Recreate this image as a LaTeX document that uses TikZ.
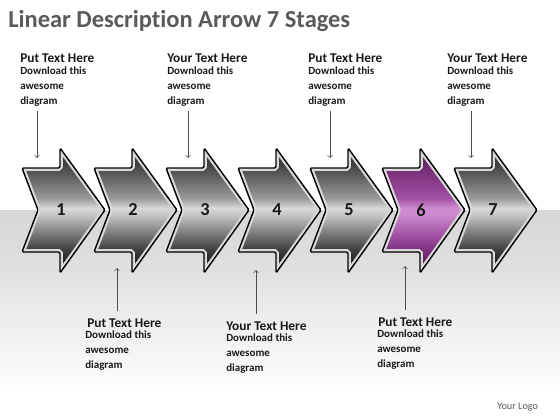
\documentclass[tikz,border=0pt]{standalone}
\usepackage{fontspec}
\setmainfont{Carlito}[Ligatures=NoCommon]
\usetikzlibrary{fadings}

\definecolor{titlegray}{RGB}{90,90,90}
\definecolor{plumA}{RGB}{78,22,80}
\definecolor{plumB}{RGB}{118,45,120}
\definecolor{plumC}{RGB}{160,80,162}
\definecolor{plumD}{RGB}{205,140,208}

% metal fill of the stages, light band through the middle
\pgfdeclareverticalshading{steel}{100bp}{color(0bp)=(black!90); color(25bp)=(black!90);
  color(33.5bp)=(black!78); color(40bp)=(black!55); color(48.5bp)=(black!22);
  color(51bp)=(black!15); color(55bp)=(black!40); color(66.5bp)=(black!70);
  color(75bp)=(black!88); color(100bp)=(black!88)}
\pgfdeclareverticalshading{plumsteel}{100bp}{color(0bp)=(plumA); color(25bp)=(plumA);
  color(33.5bp)=(plumB); color(40bp)=(plumC); color(48.5bp)=(plumD);
  color(51bp)=(plumD); color(55bp)=(plumC); color(66.5bp)=(plumB);
  color(75bp)=(plumA); color(100bp)=(plumA)}

\tikzfading[name=midfade, left color=transparent!100, middle color=transparent!0, right color=transparent!100]

\newcommand\stageshape[1]{(#1,168) -- ++(38,0) -- ++(0,-20) -- ++(45,62) -- ++(-45,63)
  -- ++(0,-21) -- ++(-38,0) -- ++(16,-42) -- cycle}

\begin{document}
\begin{tikzpicture}[x=0.025cm, y=-0.025cm,
  title/.style={anchor=base west, inner sep=0pt, font=\fontsize{17.4}{20}\selectfont\bfseries, text=titlegray},
  head/.style={anchor=base west, inner sep=0pt, font=\fontsize{9.5}{11}\selectfont\bfseries, text=black!90},
  body/.style={anchor=north west, inner sep=0pt, align=left, font=\fontsize{7.8}{10.4}\selectfont\bfseries, text=black!90},
  num/.style={font=\fontsize{13}{15}\selectfont\bfseries, text=black!90},
  pin/.style={->, draw=black!70, line width=0.5pt},
  rim/.style={draw=black!15, line width=4pt, rounded corners=1pt},
  stageline/.style={draw=black, line width=1pt, rounded corners=1pt}]
\useasboundingbox (0,0) rectangle (560,420);

% floor and shadow
\fill[white] (0,0) rectangle (560,420);
\shade[top color=black!16, bottom color=black!12] (0,210) rectangle (560,272);
\shade[top color=black!12, middle color=black!30, bottom color=black!9] (0,272) rectangle (560,298);
\shade[top color=black!12, middle color=black!72, bottom color=black!9, path fading=midfade] (0,274) rectangle (560,296);
\shade[top color=black!9, bottom color=white] (0,298) rectangle (560,395);

\node[title] (title) at (8,28) {Linear Description Arrow 7 Stages};

% the seven stages
\foreach \i/\sh in {1/steel,2/steel,3/steel,4/steel,5/steel,6/plumsteel,7/steel} {
  \pgfmathsetmacro\xo{22+72*(\i-1)}
  \begin{scope}
    \clip[rounded corners=1pt] \stageshape{\xo};
    \shade[shading=\sh] \stageshape{\xo};
    \path[rim] \stageshape{\xo};
  \end{scope}
  \path[stageline] \stageshape{\xo};
  \node[num] (n\i) at (\xo+39,210) {\i};
}

% pointer ends
\coordinate (a1) at (37,158);
\coordinate (a3) at (188,158);
\coordinate (a5) at (330,158);
\coordinate (a7) at (471,158);
\coordinate (a2) at (117,268);
\coordinate (a4) at (256,270);
\coordinate (a6) at (405,266);

% texts above
\node[head] (h1) at (20,63) {Put Text Here};
\node[body] (b1) at (20,67) {Download this\\awesome\\diagram};
\node[head] (h3) at (167,63) {Your Text Here};
\node[body] (b3) at (167,67) {Download this\\awesome\\diagram};
\node[head] (h5) at (308,63) {Put Text Here};
\node[body] (b5) at (308,67) {Download this\\awesome\\diagram};
\node[head] (h7) at (447,63) {Your Text Here};
\node[body] (b7) at (447,67) {Download this\\awesome\\diagram};

% texts below
\node[head] (h2) at (87,327) {Put Text Here};
\node[body] (b2) at (85,331) {Download this\\awesome\\diagram};
\node[head] (h4) at (226,330) {Your Text Here};
\node[body] (b4) at (226,334) {Download this\\awesome\\diagram};
\node[head] (h6) at (378,326) {Put Text Here};
\node[body] (b6) at (377,330) {Download this\\awesome\\diagram};

\node[anchor=base west, inner sep=0pt, font=\fontsize{7.3}{9}\selectfont, text=black!65] (logo) at (497,409) {Your Logo};

% pointers
\draw[pin] (b1.south -| a1) ++(0,5) -- (a1);
\draw[pin] (b3.south -| a3) ++(0,5) -- (a3);
\draw[pin] (b5.south -| a5) ++(0,5) -- (a5);
\draw[pin] (b7.south -| a7) ++(0,5) -- (a7);
\draw[pin] (h2.north -| a2) ++(0,-7) -- (a2);
\draw[pin] (h4.north -| a4) ++(0,-7) -- (a4);
\draw[pin] (h6.north -| a6) ++(0,-7) -- (a6);
\end{tikzpicture}
\end{document}
